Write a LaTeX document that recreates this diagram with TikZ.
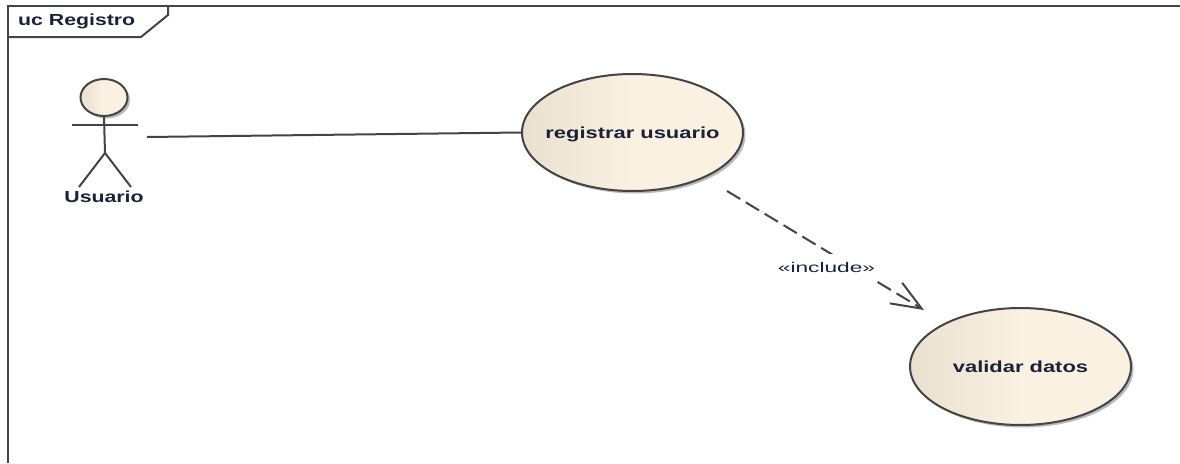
\documentclass[tikz,border=0pt]{standalone}
\usepackage{fontspec}
\setmainfont{Liberation Sans}
\newfontfamily\wideA[FakeStretch=1.33]{Liberation Sans}
\newfontfamily\wideB[FakeStretch=1.37]{Liberation Sans}
\newfontfamily\wideC[FakeStretch=1.62]{Liberation Sans}
\usetikzlibrary{arrows.meta,shadows,shapes.geometric}
\definecolor{lnk}{HTML}{444444}
\definecolor{fillA}{HTML}{E9E0D0}
\definecolor{fillB}{HTML}{FAF1E2}
\definecolor{txt}{HTML}{1A2238}
\tikzset{
  px/.style={x=1pt,y=-1pt},
  uml/.style={draw=lnk,line width=2pt},
  usecase/.style={ellipse,draw=lnk,line width=2pt,minimum width=221pt,minimum height=117pt,inner sep=0pt,
    left color=fillA,right color=fillB,shading angle=90,middle color=fillB,
    drop shadow={shadow xshift=2.5pt,shadow yshift=-2.5pt,fill=black!45,opacity=.6},
    font=\wideB\fontsize{16pt}{18pt}\selectfont\bfseries,text=txt,text depth=0pt},
  tag/.style={font=\wideA\fontsize{16pt}{18pt}\selectfont\bfseries,text=txt,inner sep=0pt},
  rel/.style={font=\wideC\fontsize{14pt}{16pt}\selectfont,text=txt,inner sep=0pt,fill=white,minimum height=26pt},
}
\begin{document}
\begin{tikzpicture}[px]
\useasboundingbox (0,0) rectangle (1180,463);
\fill[white] (0,0) rectangle (1180,463);
% frame
\draw[uml] (8,463) -- (8,6) -- (1180,6);
\draw[uml] (8,37) -- (141,37) -- (168,15) -- (168,6);
\node[tag,anchor=west] (title) at (18,21) {uc Registro};
% actor
\node[ellipse,draw=lnk,line width=2pt,minimum width=47pt,minimum height=37pt,inner sep=0pt,
  left color=fillA,right color=fillB,middle color=fillB,
  drop shadow={shadow xshift=2.5pt,shadow yshift=-2.5pt,fill=black!45,opacity=.6}] (head) at (104,97.5) {};
\coordinate (hip) at (105,153);
\coordinate (armL) at (72,125);
\coordinate (armR) at (138,125);
\coordinate (footL) at (79,187);
\coordinate (footR) at (131,187);
\draw[uml] (head.south) -- (hip);
\draw[uml] (armL) -- (armR);
\draw[uml] (footL) -- (hip) -- (footR);
\node[tag] (usuario) at (104,197) {Usuario};
% use cases
\node[usecase] (reg) at (632.5,132.5) {\makebox[0pt]{registrar usuario}};
\node[usecase] (val) at (1020.5,366.5) {\makebox[0pt]{validar datos}};
% connectors
\coordinate (assocStart) at (147,137);
\draw[uml] (assocStart) -- (reg.west);
\coordinate (incFrom) at (727,191);
\coordinate (incTo) at (924,310);
\draw[uml,dash pattern=on 15.5pt off 6.5pt,-{Straight Barb[length=30pt,width=24pt,line width=2pt]}] (incFrom) -- (incTo);
\node[rel] (inc) at (826.5,267) {«include»};
\end{tikzpicture}
\end{document}
